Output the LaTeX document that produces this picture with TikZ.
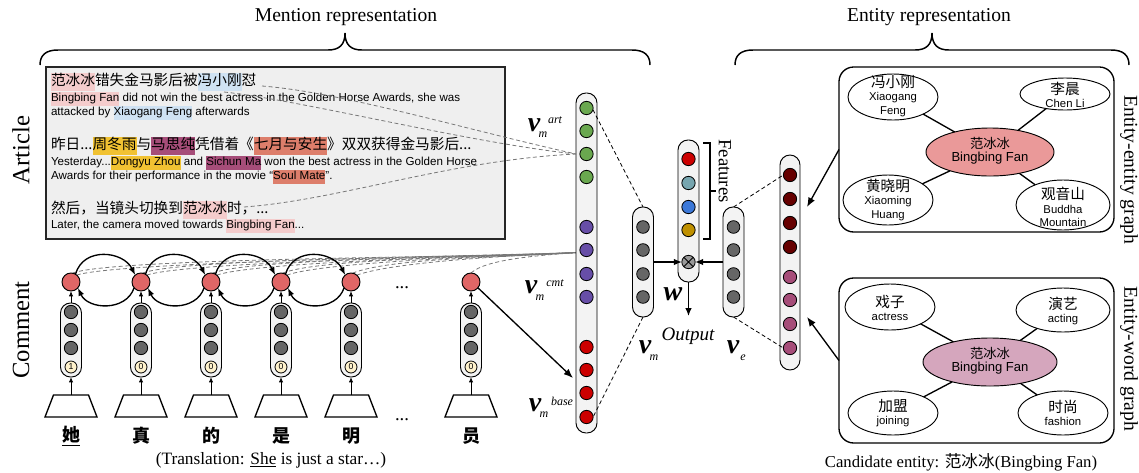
\documentclass[tikz,border=0pt]{standalone}
\usepackage{fontspec}
\setmainfont{Liberation Serif}
\newfontfamily\arial{Liberation Sans}
\newfontfamily\cjk{Noto Sans CJK SC}
\usetikzlibrary{arrows.meta,shapes.geometric,backgrounds}
\definecolor{hlpink}{HTML}{F4CCCC}
\definecolor{hlblue}{HTML}{CFE2F3}
\definecolor{hlyellow}{HTML}{F1C232}
\definecolor{hlpurple}{HTML}{A64D79}
\definecolor{hlsalmon}{HTML}{DD7E6B}
\definecolor{boxgray}{HTML}{EFEFEF}
\definecolor{vecfill}{HTML}{F3F3F3}
\definecolor{cgreen}{HTML}{6AA84F}
\definecolor{cpurple}{HTML}{674EA7}
\definecolor{cred}{HTML}{CC0000}
\definecolor{cdark}{HTML}{666666}
\definecolor{cnode}{HTML}{E06666}
\definecolor{cnum}{HTML}{FFF2CC}
\definecolor{cteal}{HTML}{76A5AF}
\definecolor{cblue}{HTML}{3C78D8}
\definecolor{cgold}{HTML}{BF9000}
\definecolor{cotimes}{HTML}{999999}
\definecolor{cmaroon}{HTML}{660000}
\definecolor{cmauve}{HTML}{A64D79}
\definecolor{centerE}{HTML}{EA9999}
\definecolor{centerW}{HTML}{D5A6BD}
\definecolor{dashgray}{HTML}{777777}
\newcommand\hlt[2]{{\setlength{\fboxsep}{0pt}\colorbox{#1}{\strut #2}}}
\newcommand\cjkA{\cjk\fontsize{11}{13.5}\selectfont}
\newcommand\enA{\arial\fontsize{8.7}{10}\selectfont}
\begin{document}
\begin{tikzpicture}[x=0.75pt,y=-0.75pt,
 every node/.style={inner sep=0pt,outer sep=0pt},
 vecbox/.style={draw=black,line width=0.7pt,fill=vecfill,rounded corners=7.5pt,minimum width=15.75pt},
 dotc/.style={circle,draw=black,line width=0.6pt,minimum size=10pt},
 rnode/.style={circle,draw=black,line width=0.7pt,fill=cnode,minimum size=13.5pt},
 gdash/.style={draw=dashgray,dash pattern=on 3pt off 2pt,line width=0.6pt},
 bdash/.style={draw=black,dash pattern=on 3pt off 2pt,line width=0.6pt},
 arr/.style={-{Latex[length=4pt,width=3.2pt]},line width=0.6pt},
 arrm/.style={-{Latex[length=6pt,width=5pt]},line width=1pt},
 bigarr/.style={-{Latex[length=7pt,width=5.5pt]},line width=1pt},
 loopa/.style={-{Latex[length=6pt,width=4.5pt]},line width=1pt},
 ell/.style={ellipse,draw=black,line width=0.7pt,fill=white},
 gbox/.style={draw=black,line width=1pt,rounded corners=11pt,minimum width=206.25pt,minimum height=123.75pt},
 titlef/.style={font=\fontsize{14.7}{16}\selectfont},
 sidef/.style={font=\fontsize{18.5}{20}\selectfont},
 vlab/.style={font=\fontsize{21}{21}\selectfont\bfseries\itshape},
 sublab/.style={font=\fontsize{9}{9}\selectfont\itshape},
 elab/.style={align=center,font=\arial\fontsize{8.5}{10}\selectfont},
 edge/.style={line width=1pt},
]
\useasboundingbox (0,0) rectangle (1139,472);

% ---------- braces and titles
\draw[line width=1.1pt] (40,65) .. controls (40,55) and (46,50) .. (58,50) -- (328,50) .. controls (339,50) and (345,45) .. (345,33) .. controls (345,45) and (351,50) .. (362,50) -- (632,50) .. controls (644,50) and (650,55) .. (650,65);
\draw[line width=1.1pt] (735,65) .. controls (735,55) and (741,50) .. (753,50) -- (915,50) .. controls (926,50) and (932,45) .. (932,33) .. controls (932,45) and (938,50) .. (949,50) -- (1111,50) .. controls (1123,50) and (1129,55) .. (1129,65);
\node[titlef] (mtitle) at (346,17) {Mention representation};
\node[titlef] (etitle) at (929,17) {Entity representation};

% ---------- side labels
\node[sidef,rotate=90] (artlab) at (21,150) {Article};
\node[sidef,rotate=90] (cmtlab) at (21,330) {Comment};

% ---------- article
\node[draw=black!85,line width=0.9pt,fill=boxgray,minimum width=344.25pt,minimum height=129pt] (art) at (275.5,153) {};
\node[anchor=west] (l1) at (51,82) {\cjkA\strut\hlt{hlpink}{范冰冰}错失金马影后被\hlt{hlblue}{冯小刚}怼};
\node[anchor=west] (l2) at (51,99) {\enA\strut\hlt{hlpink}{Bingbing Fan} did not win the best actress in the Golden Horse Awards, she was};
\node[anchor=west] (l3) at (51,113) {\enA\strut attacked by \hlt{hlblue}{Xiaogang Feng} afterwards};
\node[anchor=west] (l4) at (51,146) {\cjkA\strut 昨日...\hlt{hlyellow}{周冬雨}与\hlt{hlpurple}{马思纯}凭借着《\hlt{hlsalmon}{七月与安生}》双双获得金马影后...};
\node[anchor=west] (l5) at (51,163) {\enA\strut Yesterday...\hlt{hlyellow}{Dongyu Zhou} and \hlt{hlpurple}{Sichun Ma} won the best actress in the Golden Horse};
\node[anchor=west] (l6) at (51,177) {\enA\strut Awards for their performance in the movie “\hlt{hlsalmon}{Soul Mate}”.};
\node[anchor=west] (l7) at (51,210) {\cjkA\strut 然后，当镜头切换到\hlt{hlpink}{范冰冰}时，...};
\node[anchor=west] (l8) at (51,226) {\enA\strut Later, the camera moved towards \hlt{hlpink}{Bingbing Fan}...};

% ---------- big mention vector
\node[vecbox,minimum height=255pt] (bigvec) at (586.5,263) {};
\foreach \n/\y in {1/108,2/131,3/154,4/177} \node[dotc,fill=cgreen] (gr\n) at (586.5,\y) {};
\foreach \n/\y in {1/227,2/250,3/274,4/297} \node[dotc,fill=cpurple] (pu\n) at (586.5,\y) {};
\foreach \n/\y in {1/347,2/370,3/393,4/417} \node[dotc,fill=cred] (rb\n) at (586.5,\y) {};

% article dashed links
\coordinate (m1) at (262,86);
\coordinate (m2) at (224,92);
\coordinate (m3) at (244,207);
\draw[gdash] (m1) .. controls (340,92) and (460,128) .. (bigvec.west |- gr3);
\draw[gdash] (m2) .. controls (300,100) and (470,143) .. (bigvec.west |- gr3);
\draw[gdash] (m3) .. controls (340,200) and (450,160) .. (bigvec.west |- gr3);

% ---------- comment
\foreach \i/\x/\n/\ch in {1/71/1/{\underline{她}},2/141/0/真,3/211/0/的,4/281/0/是,5/351/0/明,6/471/0/员}{
  \node[vecbox,minimum height=55.5pt] (cv\i) at (\x,340) {};
  \node[dotc,fill=cdark] (cva\i) at (\x,312) {};
  \node[dotc,fill=cdark] (cvb\i) at (\x,330) {};
  \node[dotc,fill=cdark] (cvc\i) at (\x,348) {};
  \node[dotc,fill=cnum,minimum size=9pt,font=\arial\fontsize{6.5}{6.5}\selectfont] (cvn\i) at (\x,367) {\n};
  \node[rnode] (r\i) at (\x,282) {};
  \draw[line width=1pt] (\x-26,417) -- (\x+26,417) -- (\x+17.5,395) -- (\x-17.5,395) -- cycle;
  \coordinate (tz\i) at (\x,395);
  \draw[arr] (tz\i) -- (cv\i.south);
  \draw[arr] (cv\i.north) -- (r\i.south);
  \node[font=\cjk\bfseries\fontsize{13.5}{14}\selectfont] (ch\i) at (\x,436) {\ch};
}
\foreach \i/\j in {1/2,2/3,3/4,4/5}{
  \draw[loopa] (r\i.60) .. controls +(8,-28) and +(-12,-24) .. (r\j.130);
  \draw[loopa] (r\j.220) .. controls +(-8,24) and +(10,22) .. (r\i.-40);
}
\node[font=\fontsize{14}{14}\selectfont] (dots1) at (402,288) {...};
\node[font=\fontsize{14}{14}\selectfont] (dots2) at (402,420) {...};
\node[font=\fontsize{13}{14}\selectfont] (trans) at (271,460) {(Translation: \underline{She} is just a star…)};

\begin{scope}[on background layer]
\foreach \i in {1,...,5}{
  \draw[gdash] (r\i.50) .. controls +(40,-14) and +(-60,3) .. (pu2.200);
  \draw[gdash] (r\i.80) .. controls +(40,-16) and +(-60,5) .. (pu2.200);
}
\draw[gdash] (r6.north) .. controls +(15,-14) and +(-40,3) .. (pu2.200);
\end{scope}
\coordinate (basein) at (573,378);
\draw[bigarr] (r6.-40) -- (basein);

% ---------- labels v_m
\node[vlab] (vart) at (534,125) {v};
\node[sublab] (vartsup) at (555,120) {art};
\node[sublab] (vartsub) at (543,135) {m};
\node[vlab] (vcmt) at (531,287) {v};
\node[sublab] (vcmtsup) at (555,283) {cmt};
\node[sublab] (vcmtsub) at (540,298) {m};
\node[vlab] (vbase) at (535,405) {v};
\node[sublab] (vbasesup) at (562,401) {base};
\node[sublab] (vbasesub) at (544,415) {m};

% ---------- v_m, features, v_e
\node[vecbox,minimum height=82.5pt] (vm) at (643,262) {};
\foreach \n/\y in {1/227,2/250,3/274,4/297} \node[dotc,fill=cdark,minimum size=9.5pt] (vmc\n) at (643,\y) {};
\node[vecbox,minimum height=82.5pt] (ve) at (733.5,262) {};
\foreach \n/\y in {1/227,2/250,3/274,4/297} \node[dotc,fill=cdark,minimum size=9.5pt] (vec\n) at (733.5,\y) {};
\node[vecbox,minimum height=106.5pt] (fv) at (688.5,211) {};
\node[dotc,fill=cred] (f1) at (688.5,159) {};
\node[dotc,fill=cteal] (f2) at (688.5,183) {};
\node[dotc,fill=cblue] (f3) at (688.5,207) {};
\node[dotc,fill=cgold] (f4) at (688.5,230) {};
\node[dotc,fill=cotimes] (ot) at (688.5,262) {};
\draw[line width=0.6pt] (ot.45) -- (ot.225) (ot.135) -- (ot.-45);
\draw[arrm] (vm.east |- ot) -- (ot.west);
\draw[arrm] (ve.west |- ot) -- (ot.east);
\coordinate (outp) at (688.5,316);
\draw[arrm] (fv.south) -- (outp);
\draw[line width=1.1pt] (703,143) -- (710,143) -- (710,239) -- (703,239) (710,191) -- (716,191);
\node[rotate=-90,font=\fontsize{14}{14}\selectfont] (featlab) at (725,171) {Features};
\node[vlab] (wlab) at (673,294) {w};
\node[font=\fontsize{14.3}{15}\selectfont\itshape] (outlab) at (688,336) {Output};
\node[vlab] (vmlab) at (645,347) {v};
\node[sublab] (vmlabsub) at (654,358) {m};
\node[vlab] (velab) at (733,347) {v};
\node[sublab] (velabsub) at (743,358) {e};

% ---------- entity vector
\node[vecbox,minimum width=15pt,minimum height=161.25pt] (ev) at (790,262.5) {};
\foreach \n/\y in {1/175,2/199,3/223,4/247} \node[dotc,fill=cmaroon] (em\n) at (790,\y) {};
\foreach \n/\y in {1/277,2/300,3/324,4/348} \node[dotc,fill=cmauve] (ep\n) at (790,\y) {};
\draw[bdash] (gr1.-15) -- (vm.north);
\draw[bdash] (vm.south) -- (rb4.east);
\draw[bdash] (ve.north) -- (em1.west);
\draw[bdash] (ve.south) -- (ep4.west);

% ---------- entity-entity graph
\node[gbox] (eeg) at (976.5,149.5) {};
\node[ell,fill=centerE,minimum width=96pt,minimum height=36pt] (cE) at (990,152) {};
\node[ell,minimum width=67.5pt,minimum height=34.5pt] (e1) at (893,97) {};
\node[ell,minimum width=67.5pt,minimum height=24pt] (e2) at (1065,94) {};
\node[ell,minimum width=67.5pt,minimum height=37.5pt] (e3) at (888,200) {};
\node[ell,minimum width=70.5pt,minimum height=37.5pt] (e4) at (1063,205) {};
\foreach \k in {1,...,4} \draw[edge] (cE) -- (e\k);
\node[elab] (tcE) at (990,151) {{\cjk\fontsize{10}{11}\selectfont 范冰冰}\\{\fontsize{9.8}{11}\selectfont Bingbing Fan}};
\node[elab] (te1) at (893,96) {{\cjk\fontsize{11}{12}\selectfont 冯小刚}\\Xiaogang\\Feng};
\node[elab] (te2) at (1065,95) {{\cjk\fontsize{11}{12}\selectfont 李晨}\\Chen Li};
\node[elab] (te3) at (888,200) {{\cjk\fontsize{11}{12}\selectfont 黄晓明}\\Xiaoming\\Huang};
\node[elab] (te4) at (1063,207) {{\cjk\fontsize{11}{12}\selectfont 观音山}\\Buddha\\Mountain};
\node[titlef,rotate=-90] (eelab) at (1129,170) {Entity-entity graph};
\coordinate (eein) at (807,207);
\draw[bigarr] (eeg.west) -- (eein);

% ---------- entity-word graph
\node[gbox] (ewg) at (976.5,360.5) {};
\node[ell,fill=centerW,minimum width=100.5pt,minimum height=36pt] (cW) at (990,362) {};
\node[ell,minimum width=67.5pt,minimum height=34.5pt] (w1) at (890,307) {};
\node[ell,minimum width=70.5pt,minimum height=33pt] (w2) at (1063,310) {};
\node[ell,minimum width=67.5pt,minimum height=33pt] (w3) at (893,413) {};
\node[ell,minimum width=67.5pt,minimum height=33pt] (w4) at (1063,413) {};
\foreach \k in {1,...,4} \draw[edge] (cW) -- (w\k);
\node[elab] (tcW) at (990,361) {{\cjk\fontsize{10}{11}\selectfont 范冰冰}\\{\fontsize{9.8}{11}\selectfont Bingbing Fan}};
\node[elab] (tw1) at (890,308) {{\cjk\fontsize{11}{12}\selectfont 戏子}\\actress};
\node[elab] (tw2) at (1063,311) {{\cjk\fontsize{11}{12}\selectfont 演艺}\\acting};
\node[elab] (tw3) at (893,413) {{\cjk\fontsize{11}{12}\selectfont 加盟}\\joining};
\node[elab] (tw4) at (1063,413) {{\cjk\fontsize{11}{12}\selectfont 时尚}\\fashion};
\node[titlef,rotate=-90] (ewlab) at (1129,359) {Entity-word graph};
\coordinate (ewin) at (807,317);
\draw[bigarr] (ewg.west) -- (ewin);
\node[font=\fontsize{12.5}{14}\selectfont] (cand) at (961,462) {Candidate entity: {\cjk 范冰冰}(Bingbing Fan)};
\end{tikzpicture}
\end{document}
